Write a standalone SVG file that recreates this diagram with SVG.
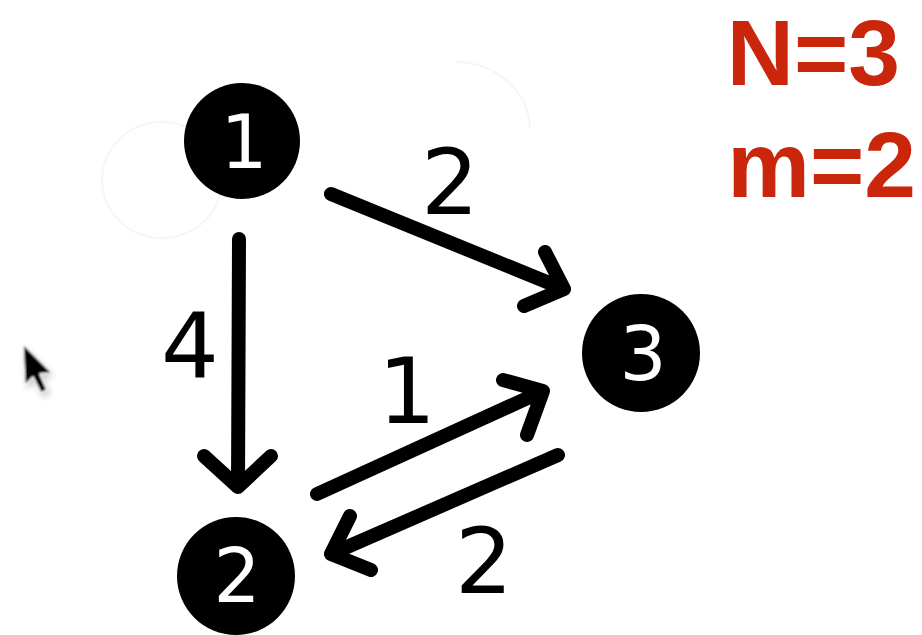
<svg xmlns="http://www.w3.org/2000/svg" width="922" height="635" viewBox="0 0 922 635">
  <style>
    .node circle { fill: #000; }
    .node text { fill: #fff; font-family: "DejaVu Sans", sans-serif; font-size: 74px; text-anchor: middle; }
    .edge { fill: none; stroke: #000; stroke-width: 14; stroke-linecap: round; stroke-linejoin: round; }
    .weight { fill: #000; font-family: "DejaVu Sans", sans-serif; font-size: 91px; text-anchor: middle; }
    .info { fill: #c9260b; font-family: "Liberation Sans", Arial, sans-serif; font-weight: bold; font-size: 93px; text-anchor: end; }
    .ghost { fill: none; stroke: #f6f6f6; stroke-width: 2; }
  </style>
  <defs>
    <filter id="soft" x="-50%" y="-50%" width="200%" height="200%">
      <feGaussianBlur stdDeviation="1"/>
    </filter>
    <filter id="shade" x="-50%" y="-50%" width="200%" height="200%">
      <feGaussianBlur stdDeviation="3"/>
    </filter>
  </defs>
  <rect width="922" height="635" fill="#fff"/>

  <!-- faint leftover arcs -->
  <g id="ghosts">
    <ellipse class="ghost" cx="162" cy="180" rx="60" ry="58"/>
    <path class="ghost" d="M455,62 C495,62 528,90 530,128"/>
  </g>

  <!-- connectors -->
  <g id="edges">
    <g id="e12">
      <path class="edge" d="M239,239 L238,487 M204,456 L238,487 L271,456"/>
      <text class="weight" x="190" y="378">4</text>
    </g>
    <g id="e13">
      <path class="edge" d="M331,194 L564,289 M545,252 L564,289 L524,306"/>
      <text class="weight" x="450" y="214">2</text>
    </g>
    <g id="e23">
      <path class="edge" d="M317,494 L543,391 M503,380 L543,391 L527,435"/>
      <text class="weight" x="407" y="423">1</text>
    </g>
    <g id="e32">
      <path class="edge" d="M558,455 L331,554 M350,516 L331,554 L371,570"/>
      <text class="weight" x="484" y="593">2</text>
    </g>
  </g>

  <!-- nodes -->
  <g id="n1" class="node">
    <circle cx="242" cy="141" r="58"/>
    <text x="244" y="168">1</text>
  </g>
  <g id="n2" class="node">
    <circle cx="236" cy="576" r="59"/>
    <text x="237" y="602">2</text>
  </g>
  <g id="n3" class="node">
    <circle cx="641" cy="353" r="59"/>
    <text x="643" y="380">3</text>
  </g>

  <!-- counts -->
  <g id="info">
    <text class="info" x="900" y="85">N=3</text>
    <text class="info" x="916" y="197">m=2</text>
  </g>

  <!-- pointer -->
  <g id="pointer">
    <path d="M25,348 L27,389 L35,381 L43,397 L50,394 L42,378 L54,377 Z" fill="#888" opacity="0.5" filter="url(#shade)"/>
    <path d="M23,344 L25,385 L33,377 L41,393 L47,390 L40,374 L52,373 Z" fill="#000" stroke="#fff" stroke-width="1.5" stroke-linejoin="round" filter="url(#soft)"/>
  </g>
</svg>
